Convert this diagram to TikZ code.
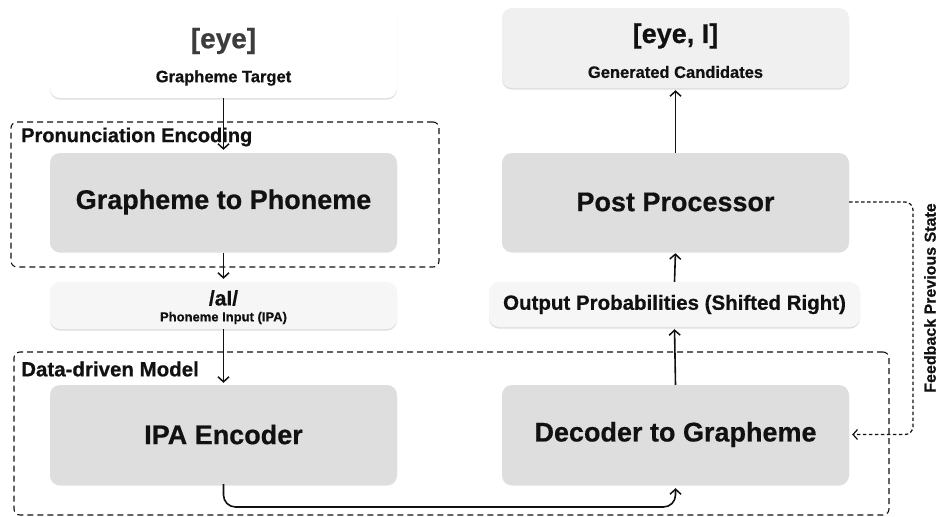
\documentclass[tikz,border=0pt]{standalone}
\usepackage{fontspec}
\setmainfont{Liberation Sans}[BoldFeatures={FakeBold=0.6}]
\usetikzlibrary{arrows.meta,shadows}

\definecolor{boxgrey}{HTML}{DEDEDE}
\definecolor{boxlight}{HTML}{F6F6F6}
\definecolor{boxcand}{HTML}{F0F0F0}
\definecolor{inkdark}{HTML}{111111}
\definecolor{inkgrey}{HTML}{3C3C3C}

\newcommand{\fsz}[1]{\fontsize{#1}{#1}\selectfont\bfseries}

\tikzset{
  panel/.style={draw=none, rounded corners=10pt, inner sep=0pt,
    drop shadow={opacity=0.25, shadow xshift=0pt, shadow yshift=-1.6pt}},
  procbox/.style={panel, fill=boxgrey, minimum width=347pt, minimum height=98pt,
    text=inkdark, font=\fsz{27}},
  txt/.style={inner sep=0pt, text=inkdark},
  frame/.style={draw=inkdark, line width=1.1pt, dash pattern=on 6pt off 4pt,
    rounded corners=6pt, inner sep=0pt},
  arr/.style={draw=inkdark, line width=1.6pt, -{Straight Barb[length=5pt,width=11pt,line width=1.5pt]}},
  fbarr/.style={draw=inkdark, line width=1.2pt, dash pattern=on 3.5pt off 2.5pt,
    -{Straight Barb[length=4.5pt,width=10pt,line width=1.2pt]}}
}

\begin{document}
\begin{tikzpicture}[x=1pt,y=-1pt]
\useasboundingbox (0,0) rectangle (938,517);

% dashed group frames
\node[frame, minimum width=428pt, minimum height=145pt] (pe) at (225,194.5) {};
\node[frame, minimum width=875pt, minimum height=163pt] (dm) at (451.5,433.5) {};
\node[txt, anchor=west, font=\fsz{20}] (pelbl) at (21,137) {Pronunciation Encoding};
\node[txt, anchor=west, font=\fsz{20.5}] (dmlbl) at (21,369) {Data-driven Model};

% input / output panels
\node[panel, fill=white, minimum width=347pt, minimum height=93pt] (gt) at (223.5,51.5) {};
\node[txt, text=inkgrey, font=\fsz{28}] (gtval) at (223.5,41) {[eye]};
\node[txt, font=\fsz{16.5}] (gtlbl) at (223.5,78) {Grapheme Target};

\node[panel, fill=boxcand, minimum width=347pt, minimum height=80pt] (gc) at (675.5,48) {};
\node[txt, font=\fsz{27}] (gcval) at (675.5,36) {[eye, I]};
\node[txt, font=\fsz{16.5}] (gclbl) at (675.5,72) {Generated Candidates};

\node[panel, fill=boxlight, minimum width=347pt, minimum height=47pt] (pi) at (223.5,305.5) {};
\node[txt, font=\fsz{21}] (pival) at (223.5,298) {/aI/};
\node[txt, font=\fsz{13}] (pilbl) at (223.5,318) {Phoneme Input (IPA)};

\node[panel, fill=boxlight, minimum width=371pt, minimum height=45pt,
      text=inkdark, font=\fsz{20.5}] (op) at (674.5,304.5) {Output Probabilities (Shifted Right)};

% processing blocks
\node[procbox] (g2p) at (223.5,202) {Grapheme to Phoneme};
\node[procbox] (pp)  at (675.5,202) {Post Processor};
\node[procbox, minimum height=99pt] (ipa) at (223.5,434.5) {IPA Encoder};
\node[procbox, minimum height=99pt] (dec) at (675.5,434.5) {Decoder to Grapheme};

% data flow
\draw[arr, shorten >=3pt] (gt.south) -- (g2p.north);
\draw[arr, shorten <=2pt, shorten >=3pt] (g2p.south) -- (pi.north);
\draw[arr, shorten >=2pt] (pi.south) -- (ipa.north);
\coordinate (link) at (450,507);
\draw[arr, rounded corners=12pt, shorten >=4pt] (ipa.south) |- (link) -| (dec.south);
\draw[arr, shorten <=0pt, shorten >=2pt] (dec.north) -- (op.south);
\draw[arr, shorten >=2pt] (op.north) -- (pp.south);
\draw[arr, shorten >=2pt] (pp.north) -- (gc.south);

% feedback loop
\coordinate (fb) at (913,318);
\draw[fbarr, rounded corners=8pt, shorten >=3pt] (pp.east) -| (fb) |- (dec.east);
\node[txt, rotate=90, font=\fsz{16}] (fblbl) at (930,298) {Feedback Previous State};
\end{tikzpicture}
\end{document}
